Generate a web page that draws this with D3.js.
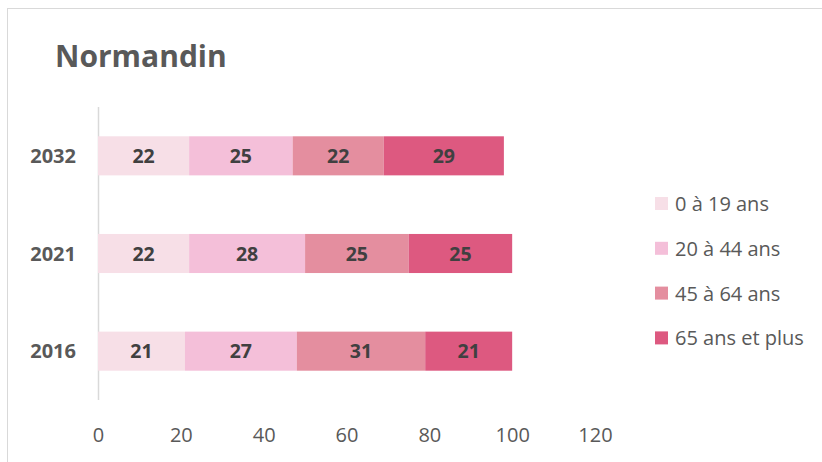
<!DOCTYPE html>
<html lang="fr">
<head>
<meta charset="UTF-8">
<title>Normandin</title>
<script src="https://d3js.org/d3.v7.min.js"></script>
<style>
    body { margin: 0; background: #fff; overflow: hidden; }
    svg { font-family: "Open Sans", "Noto Sans", sans-serif; }
</style>
</head>
<body>
<div id="chart"></div>
<script>
    const years = ["2032", "2021", "2016"];
    const groups = ["0 à 19 ans", "20 à 44 ans", "45 à 64 ans", "65 ans et plus"];
    const values = {
        "2032": [22, 25, 22, 29],
        "2021": [22, 28, 25, 25],
        "2016": [21, 27, 31, 21]
    };
    const colors = ["#F7DFE7", "#F4BFD9", "#E48E9F", "#DD5980"];
    const xTicks = [0, 20, 40, 60, 80, 100, 120];

    const W = 822, H = 462;
    const svg = d3.select("#chart").append("svg")
        .attr("width", W).attr("height", H);

    // cadre
    svg.append("rect")
        .attr("x", 7.5).attr("y", 8.5)
        .attr("width", W + 10).attr("height", H + 10)
        .attr("fill", "none").attr("stroke", "#d9d9d9");

    svg.append("text")
        .attr("x", 55).attr("y", 67)
        .attr("font-size", 30).attr("font-weight", "bold")
        .attr("fill", "#595959")
        .text("Normandin");

    const x = d3.scaleLinear().domain([0, 120]).range([98, 595]);
    const y = d3.scaleBand().domain(years).range([107, 400])
        .paddingInner(0.6).paddingOuter(0.3);

    // axe vertical
    svg.append("line")
        .attr("x1", 98.5).attr("x2", 98.5)
        .attr("y1", 107).attr("y2", 400)
        .attr("stroke", "#d9d9d9").attr("stroke-width", 1.5);

    svg.append("g")
        .selectAll("text")
        .data(years)
        .join("text")
        .attr("x", 76)
        .attr("y", d => y(d) + y.bandwidth() / 2)
        .attr("dy", "0.36em")
        .attr("text-anchor", "end")
        .attr("font-size", 20).attr("font-weight", "bold")
        .attr("fill", "#595959")
        .text(d => d);

    // barres empilées
    const rows = years.map(yr => {
        let acc = 0;
        return values[yr].map((v, i) => {
            const seg = { year: yr, i: i, v: v, x0: acc, x1: acc + v };
            acc += v;
            return seg;
        });
    }).flat();

    svg.append("g")
        .selectAll("rect")
        .data(rows)
        .join("rect")
        .attr("x", d => x(d.x0))
        .attr("y", d => y(d.year))
        .attr("width", d => x(d.x1) - x(d.x0))
        .attr("height", y.bandwidth())
        .attr("fill", d => colors[d.i]);

    svg.append("g")
        .selectAll("text")
        .data(rows)
        .join("text")
        .attr("x", d => (x(d.x0) + x(d.x1)) / 2)
        .attr("y", d => y(d.year) + y.bandwidth() / 2)
        .attr("dy", "0.36em")
        .attr("text-anchor", "middle")
        .attr("font-size", 19.5).attr("font-weight", "bold")
        .attr("fill", "#404040")
        .text(d => d.v);

    // axe horizontal
    const xAxis = svg.append("g")
        .attr("transform", "translate(0,428)")
        .call(d3.axisBottom(x).tickValues(xTicks).tickSize(0).tickPadding(0));
    xAxis.select(".domain").remove();
    xAxis.selectAll("text")
        .attr("font-size", 20)
        .attr("font-family", "\"Open Sans\", sans-serif")
        .attr("fill", "#595959");

    // légende
    const leg = svg.append("g")
        .selectAll("g")
        .data(groups)
        .join("g")
        .attr("transform", (d, i) => `translate(655, ${204 + i * 44.8})`);
    leg.append("rect")
        .attr("x", 0).attr("y", -7)
        .attr("width", 13).attr("height", 13)
        .attr("fill", (d, i) => colors[i]);
    leg.append("text")
        .attr("x", 20).attr("dy", "0.35em")
        .attr("font-size", 20)
        .attr("fill", "#595959")
        .text(d => d);
</script>
</body>
</html>
